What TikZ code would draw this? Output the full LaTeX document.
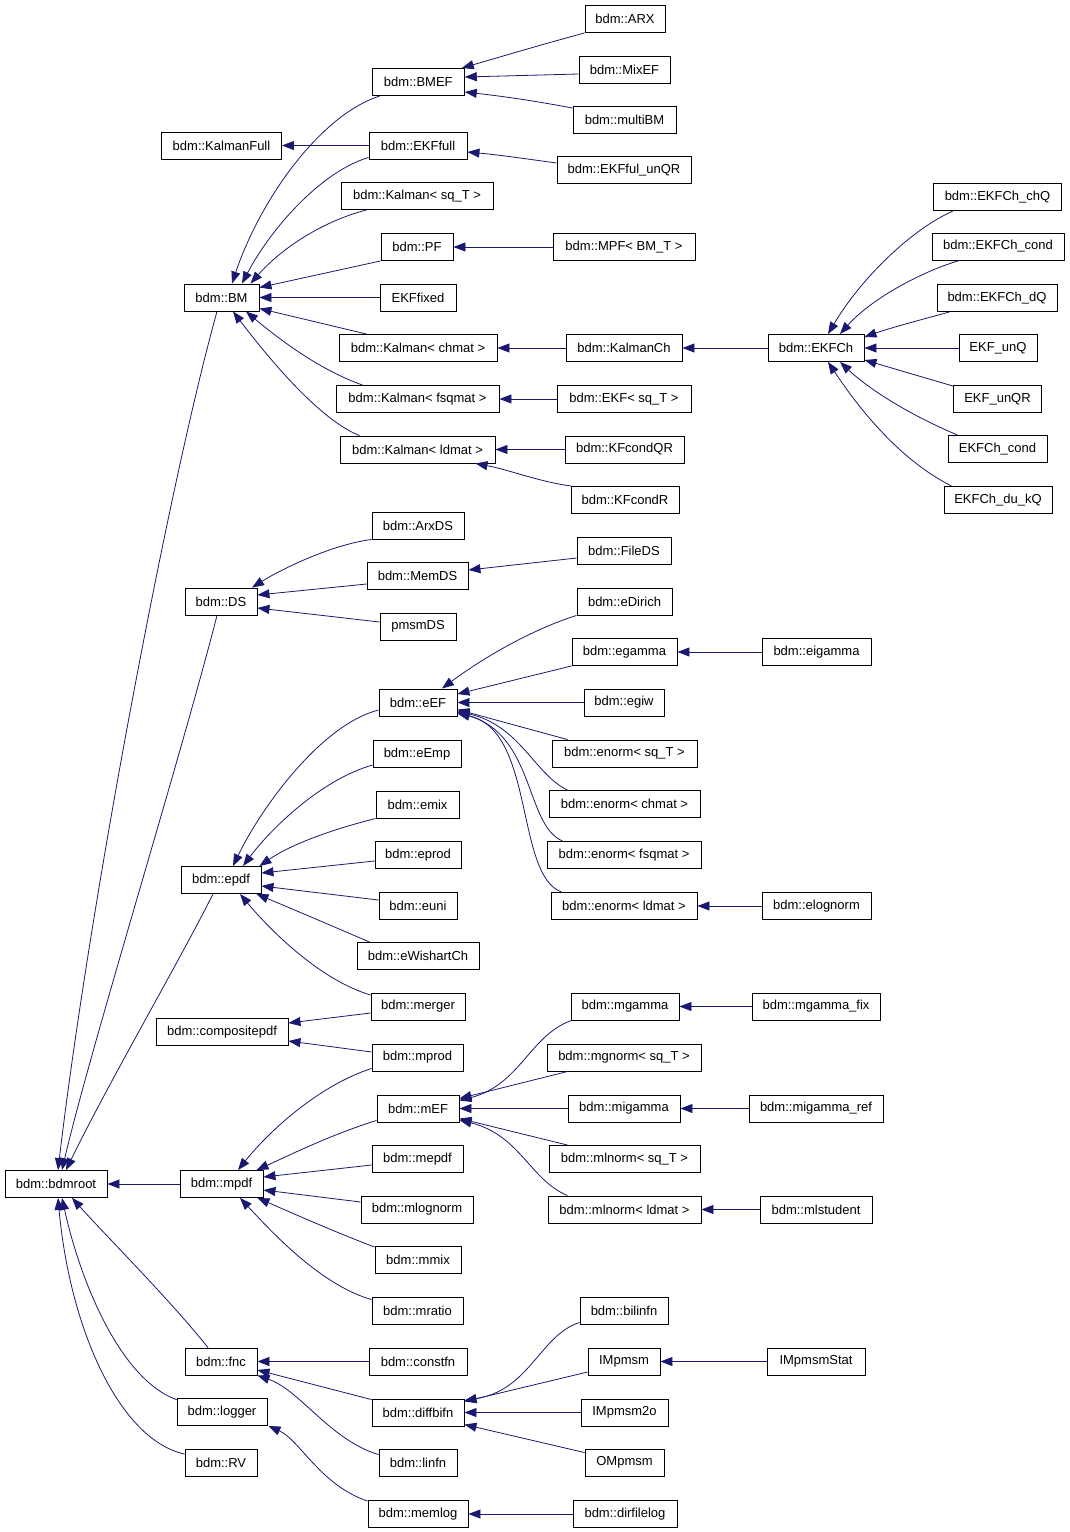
\documentclass[tikz,border=0pt]{standalone}
\usepackage{fontspec}
\setmainfont{Liberation Sans}
\usetikzlibrary{arrows.meta,calc}
\definecolor{navyc}{RGB}{25,25,112}
\tikzset{
  cls/.style={draw=black, line width=0.9pt, fill=white, minimum height=27pt, inner sep=0pt, font=\fontsize{13}{15}\selectfont},
  edge/.style={draw=navyc, line width=0.8pt, -{Triangle[length=12pt,width=9pt]}, navyc}
}
\begin{document}
\begin{tikzpicture}[x=1pt,y=-1pt]
\useasboundingbox[fill=white] (0,0) rectangle (1069,1532);
% column 1
\node[cls, minimum width=102pt] (root) at (56,1184) {bdm::bdmroot};
% column 2
\node[cls, minimum width=120pt] (KF) at (221.5,145.5) {bdm::KalmanFull};
\node[cls, minimum width=75pt] (BM) at (221.5,297.5) {bdm::BM};
\node[cls, minimum width=72pt] (DS) at (221,601.5) {bdm::DS};
\node[cls, minimum width=80pt] (epdf) at (221,880) {bdm::epdf};
\node[cls, minimum width=132pt] (comp) at (222,1032) {bdm::compositepdf};
\node[cls, minimum width=83pt] (mpdf) at (221.5,1184) {bdm::mpdf};
\node[cls, minimum width=72pt] (fnc) at (221,1361.5) {bdm::fnc};
\node[cls, minimum width=90pt] (logger) at (222,1412) {bdm::logger};
\node[cls, minimum width=72pt] (RV) at (221,1462.5) {bdm::RV};
% column 3
\node[cls, minimum width=92pt] (BMEF) at (418.3,82) {bdm::BMEF};
\node[cls, minimum width=98pt] (EKFfull) at (418,145.5) {bdm::EKFfull};
\node[cls, minimum width=152pt] (Ksq) at (417,196) {bdm::Kalman< sq\_T >};
\node[cls, minimum width=72pt] (PF) at (417,247) {bdm::PF};
\node[cls, minimum width=76pt] (EKFfixed) at (418,297.5) {EKFfixed};
\node[cls, minimum width=158pt] (Kch) at (418,348) {bdm::Kalman< chmat >};
\node[cls, minimum width=163pt] (Kfsq) at (417.5,399) {bdm::Kalman< fsqmat >};
\node[cls, minimum width=155pt] (Kld) at (417.5,449.5) {bdm::Kalman< ldmat >};
\node[cls, minimum width=92pt] (ArxDS) at (418,525.5) {bdm::ArxDS};
\node[cls, minimum width=101pt] (MemDS) at (417.5,576) {bdm::MemDS};
\node[cls, minimum width=76pt] (pmsmDS) at (418,626.5) {pmsmDS};
\node[cls, minimum width=78pt] (eEF) at (418,702.5) {bdm::eEF};
\node[cls, minimum width=88pt] (eEmp) at (417,754) {bdm::eEmp};
\node[cls, minimum width=83pt] (emix) at (417.5,804.5) {bdm::emix};
\node[cls, minimum width=86pt] (eprod) at (418,855) {bdm::eprod};
\node[cls, minimum width=78pt] (euni) at (418,906) {bdm::euni};
\node[cls, minimum width=122pt] (eWish) at (418,956) {bdm::eWishartCh};
\node[cls, minimum width=94pt] (merger) at (418,1006.5) {bdm::merger};
\node[cls, minimum width=91pt] (mprod) at (417.5,1057.5) {bdm::mprod};
\node[cls, minimum width=82pt] (mEF) at (418,1108.5) {bdm::mEF};
\node[cls, minimum width=91pt] (mepdf) at (417.5,1159) {bdm::mepdf};
\node[cls, minimum width=112pt] (mlognorm) at (417,1209.5) {bdm::mlognorm};
\node[cls, minimum width=86pt] (mmix) at (418,1260) {bdm::mmix};
\node[cls, minimum width=91pt] (mratio) at (417.5,1310.5) {bdm::mratio};
\node[cls, minimum width=98pt] (constfn) at (418,1361.5) {bdm::constfn};
\node[cls, minimum width=92pt] (diffbifn) at (418,1412.5) {bdm::diffbifn};
\node[cls, minimum width=78pt] (linfn) at (418,1462.5) {bdm::linfn};
\node[cls, minimum width=100pt] (memlog) at (418,1514) {bdm::memlog};
% column 4
\node[cls, minimum width=80pt] (ARX) at (625,19) {bdm::ARX};
\node[cls, minimum width=91pt] (MixEF) at (624.5,70) {bdm::MixEF};
\node[cls, minimum width=103pt] (multiBM) at (624.5,120) {bdm::multiBM};
\node[cls, minimum width=134pt] (EKFfulunQR) at (624,170) {bdm::EKFful\_unQR};
\node[cls, minimum width=142pt] (MPF) at (624,247) {bdm::MPF< BM\_T >};
\node[cls, minimum width=116pt] (KalmanCh) at (624,348) {bdm::KalmanCh};
\node[cls, minimum width=134pt] (EKFsq) at (624,399) {bdm::EKF< sq\_T >};
\node[cls, minimum width=119pt] (KFcondQR) at (624.5,449.5) {bdm::KFcondQR};
\node[cls, minimum width=108pt] (KFcondR) at (625,500) {bdm::KFcondR};
\node[cls, minimum width=94pt] (FileDS) at (624,551) {bdm::FileDS};
\node[cls, minimum width=95pt] (eDirich) at (624.5,601.5) {bdm::eDirich};
\node[cls, minimum width=105pt] (egamma) at (624.5,652) {bdm::egamma};
\node[cls, minimum width=80pt] (egiw) at (624,702.5) {bdm::egiw};
\node[cls, minimum width=145pt] (enormsq) at (624.5,753.5) {bdm::enorm< sq\_T >};
\node[cls, minimum width=151pt] (enormch) at (624.5,804) {bdm::enorm< chmat >};
\node[cls, minimum width=154pt] (enormfsq) at (624,855) {bdm::enorm< fsqmat >};
\node[cls, minimum width=146pt] (enormld) at (624,906) {bdm::enorm< ldmat >};
\node[cls, minimum width=108pt] (mgamma) at (625,1006.5) {bdm::mgamma};
\node[cls, minimum width=154pt] (mgnormsq) at (624,1057.5) {bdm::mgnorm< sq\_T >};
\node[cls, minimum width=112pt] (migamma) at (624,1108.5) {bdm::migamma};
\node[cls, minimum width=151pt] (mlnormsq) at (624.5,1159) {bdm::mlnorm< sq\_T >};
\node[cls, minimum width=153pt] (mlnormld) at (624.5,1209.5) {bdm::mlnorm< ldmat >};
\node[cls, minimum width=88pt] (bilinfn) at (624,1310.5) {bdm::bilinfn};
\node[cls, minimum width=72pt] (IMpmsm) at (624,1361.5) {IMpmsm};
\node[cls, minimum width=87pt] (IMpmsmtwo) at (624.5,1412.5) {IMpmsm2o};
\node[cls, minimum width=79pt] (OMpmsm) at (624.5,1462.5) {OMpmsm};
\node[cls, minimum width=104pt] (dirfilelog) at (625,1514) {bdm::dirfilelog};
% column 5
\node[cls, minimum width=96pt] (EKFCh) at (816,348) {bdm::EKFCh};
\node[cls, minimum width=109pt] (eigamma) at (816.5,652) {bdm::eigamma};
\node[cls, minimum width=109pt] (elognorm) at (816.5,906) {bdm::elognorm};
\node[cls, minimum width=128pt] (mgammafix) at (816,1006.5) {bdm::mgamma\_fix};
\node[cls, minimum width=134pt] (migammaref) at (816,1108.5) {bdm::migamma\_ref};
\node[cls, minimum width=112pt] (mlstudent) at (816,1209.5) {bdm::mlstudent};
\node[cls, minimum width=98pt] (IMpmsmStat) at (816,1361.5) {IMpmsmStat};
% column 6
\node[cls, minimum width=128pt] (chQ) at (997.5,197) {bdm::EKFCh\_chQ};
\node[cls, minimum width=132pt] (condA) at (998,246.5) {bdm::EKFCh\_cond};
\node[cls, minimum width=120pt] (dQ) at (997,298) {bdm::EKFCh\_dQ};
\node[cls, minimum width=78pt] (unQ) at (998,348) {EKF\_unQ};
\node[cls, minimum width=88pt] (unQR) at (997.5,399) {EKF\_unQR};
\node[cls, minimum width=99pt] (condB) at (997.5,449) {EKFCh\_cond};
\node[cls, minimum width=108pt] (dukQ) at (998,500) {EKFCh\_du\_kQ};

% ===== edges to bdmroot
\draw[edge] ($(BM.south)+(-4.5,0)$) .. controls (170,480) and (90,900) .. ($(root.north)+(2,0)$);
\draw[edge] ($(DS.south)+(-4,0)$) .. controls (180,760) and (90,1050) .. ($(root.north)+(6,0)$);
\draw[edge] ($(epdf.south)+(-8,0)$) .. controls (180,960) and (110,1080) .. ($(root.north)+(10,0)$);
\draw[edge] (mpdf.west) -- (root.east);
\draw[edge] ($(fnc.north)+(-13,0)$) .. controls (170,1300) and (110,1240) .. ($(root.south)+(16,0)$);
\draw[edge] ($(logger.north west)+(1,2)$) .. controls (120,1380) and (80,1280) .. ($(root.south)+(6,0)$);
\draw[edge] ($(RV.north west)+(0,5.5)$) .. controls (120,1440) and (70,1330) .. ($(root.south)+(2,0)$);
% ===== BM family
\draw[edge] (EKFfull.west) -- (KF.east);
\draw[edge] ($(BMEF.south west)+(8,0)$) .. controls (320,115) and (260,200) .. ($(BM.north)+(10.5,0)$);
\draw[edge] ($(EKFfull.south west)+(0,-2)$) .. controls (320,172) and (270,230) .. ($(BM.north)+(20.5,0)$);
\draw[edge] ($(Ksq.south west)+(26,0)$) .. controls (320,222) and (280,250) .. ($(BM.north)+(29,0)$);
\draw[edge] (PF.south west) -- ($(BM.east)+(0,-10)$);
\draw[edge] (EKFfixed.west) -- (BM.east);
\draw[edge] ($(Kch.north west)+(28,0)$) -- ($(BM.east)+(0,11)$);
\draw[edge] ($(Kfsq.north west)+(27,0)$) .. controls (320,370) and (280,340) .. ($(BM.south)+(24.5,0)$);
\draw[edge] ($(Kld.north west)+(20,0)$) .. controls (320,420) and (270,360) .. ($(BM.south)+(11.5,0)$);
\draw[edge] (ARX.south west) .. controls (540,45) and (500,57) .. ($(BMEF.north east)+(-3,0)$);
\draw[edge] ($(MixEF.west)+(0,4)$) -- ($(BMEF.east)+(0,-5)$);
\draw[edge] ($(multiBM.north west)+(0,2)$) .. controls (530,100) and (500,96) .. ($(BMEF.east)+(0,10)$);
\draw[edge] ($(EKFfulunQR.west)+(0,-7)$) .. controls (520,158) and (500,155) .. ($(EKFfull.east)+(0,6.5)$);
\draw[edge] (MPF.west) -- (PF.east);
\draw[edge] (KalmanCh.west) -- (Kch.east);
\draw[edge] (EKFCh.west) -- (KalmanCh.east);
\draw[edge] (EKFsq.west) -- (Kfsq.east);
\draw[edge] (KFcondQR.west) -- (Kld.east);
\draw[edge] ($(KFcondR.north west)+(1,0)$) .. controls (540,482) and (510,470) .. ($(Kld.south)+(58,0)$);
% ===== EKFCh family
\draw[edge] ($(chQ.south west)+(20,0)$) .. controls (910,230) and (860,280) .. ($(EKFCh.north)+(12,0)$);
\draw[edge] ($(condA.south west)+(28,0)$) .. controls (920,272) and (870,300) .. ($(EKFCh.north)+(24,0)$);
\draw[edge] ($(dQ.south west)+(13,0)$) .. controls (920,320) and (890,328) .. ($(EKFCh.east)+(0,-11)$);
\draw[edge] (unQ.west) -- (EKFCh.east);
\draw[edge] ($(unQR.north west)+(0,1)$) -- ($(EKFCh.east)+(0,12)$);
\draw[edge] ($(condB.north west)+(10,0)$) .. controls (910,415) and (870,390) .. ($(EKFCh.south)+(24,0)$);
\draw[edge] ($(dukQ.north west)+(8,0)$) .. controls (900,460) and (860,410) .. ($(EKFCh.south)+(12,0)$);
% ===== DS family
\draw[edge] (ArxDS.south west) .. controls (330,545) and (280,570) .. ($(DS.north)+(31,0)$);
\draw[edge] ($(MemDS.west)+(0,8)$) -- ($(DS.east)+(0,-6.5)$);
\draw[edge] ($(pmsmDS.west)+(0,-4.5)$) -- ($(DS.east)+(0,6.5)$);
\draw[edge] ($(FileDS.west)+(0,7)$) -- ($(MemDS.east)+(0,-6)$);
% ===== epdf family
\draw[edge] ($(eEF.west)+(0,7.5)$) .. controls (320,725) and (260,810) .. ($(epdf.north)+(12,0)$);
\draw[edge] ($(eEmp.west)+(0,11)$) .. controls (320,780) and (270,830) .. ($(epdf.north)+(22,0)$);
\draw[edge] (emix.south west) .. controls (330,830) and (290,845) .. ($(epdf.north east)+(-2,0)$);
\draw[edge] ($(eprod.west)+(0,6)$) -- ($(epdf.east)+(0,-7)$);
\draw[edge] ($(euni.west)+(0,-6)$) -- ($(epdf.east)+(0,6)$);
\draw[edge] ($(eWish.north west)+(13,0)$) .. controls (330,925) and (290,908) .. ($(epdf.south east)+(-5,0)$);
\draw[edge] ($(merger.west)+(0,-11.5)$) .. controls (320,980) and (270,930) .. ($(epdf.south)+(19,0)$);
\draw[edge] ($(merger.west)+(0,6.5)$) -- ($(comp.east)+(0,-9)$);
\draw[edge] ($(mprod.west)+(0,-5.5)$) -- ($(comp.east)+(0,9)$);
% ===== eEF family
\draw[edge] (eDirich.south west) .. controls (530,630) and (480,660) .. ($(eEF.north)+(24,0)$);
\draw[edge] (egamma.south west) -- ($(eEF.east)+(0,-8.5)$);
\draw[edge] (egiw.west) -- (eEF.east);
\draw[edge] ($(enormsq.north west)+(16,0)$) -- ($(eEF.east)+(0,7)$);
\draw[edge] ($(enormch.north west)+(19,0)$) .. controls (535,775) and (520,725) .. ($(eEF.east)+(0,9)$);
\draw[edge] ($(enormfsq.north west)+(16,0)$) .. controls (525,825) and (535,735) .. ($(eEF.east)+(0,10)$);
\draw[edge] ($(enormld.north west)+(11,0)$) .. controls (515,875) and (535,730) .. ($(eEF.east)+(0,11)$);
\draw[edge] (eigamma.west) -- (egamma.east);
\draw[edge] (elognorm.west) -- (enormld.east);
% ===== mpdf family
\draw[edge] ($(mprod.south west)+(0,-3)$) .. controls (320,1085) and (270,1130) .. ($(mpdf.north)+(16.5,0)$);
\draw[edge] ($(mEF.south west)+(0,-2)$) .. controls (330,1135) and (290,1155) .. ($(mpdf.north east)+(-7,0)$);
\draw[edge] ($(mepdf.west)+(0,6)$) -- ($(mpdf.east)+(0,-7)$);
\draw[edge] ($(mlognorm.west)+(0,-7.5)$) -- ($(mpdf.east)+(0,6)$);
\draw[edge] ($(mmix.north west)+(0,1)$) .. controls (330,1230) and (290,1212) .. ($(mpdf.south east)+(-6,0)$);
\draw[edge] ($(mratio.north west)+(0,3)$) .. controls (320,1285) and (270,1230) .. ($(mpdf.south)+(18.5,0)$);
% ===== mEF family
\draw[edge] ($(mgamma.south west)+(1,0)$) .. controls (530,1035) and (520,1085) .. ($(mEF.east)+(0,-8)$);
\draw[edge] ($(mgnormsq.south west)+(21,0)$) -- ($(mEF.east)+(0,-10)$);
\draw[edge] (migamma.west) -- (mEF.east);
\draw[edge] ($(mlnormsq.north west)+(19,0)$) -- ($(mEF.east)+(0,10)$);
\draw[edge] ($(mlnormld.north west)+(20,0)$) .. controls (530,1180) and (520,1135) .. ($(mEF.east)+(0,11.5)$);
\draw[edge] (mgammafix.west) -- (mgamma.east);
\draw[edge] (migammaref.west) -- (migamma.east);
\draw[edge] (mlstudent.west) -- (mlnormld.east);
% ===== fnc / logger family
\draw[edge] (constfn.west) -- (fnc.east);
\draw[edge] ($(diffbifn.north west)+(0,1)$) -- ($(fnc.east)+(0,8.5)$);
\draw[edge] ($(linfn.north west)+(0,6)$) .. controls (330,1440) and (300,1390) .. (fnc.south east);
\draw[edge] ($(memlog.north west)+(0,1)$) .. controls (320,1485) and (300,1440) .. ($(logger.south east)+(1,0)$);
\draw[edge] (dirfilelog.west) -- (memlog.east);
% ===== diffbifn family
\draw[edge] ($(bilinfn.south west)+(0,-2)$) .. controls (540,1335) and (530,1390) .. ($(diffbifn.east)+(0,-12)$);
\draw[edge] ($(IMpmsm.west)+(0,10.5)$) -- ($(diffbifn.east)+(0,-11)$);
\draw[edge] (IMpmsmtwo.west) -- (diffbifn.east);
\draw[edge] ($(OMpmsm.north west)+(0,4)$) -- ($(diffbifn.east)+(0,12)$);
\draw[edge] (IMpmsmStat.west) -- (IMpmsm.east);
\end{tikzpicture}
\end{document}
